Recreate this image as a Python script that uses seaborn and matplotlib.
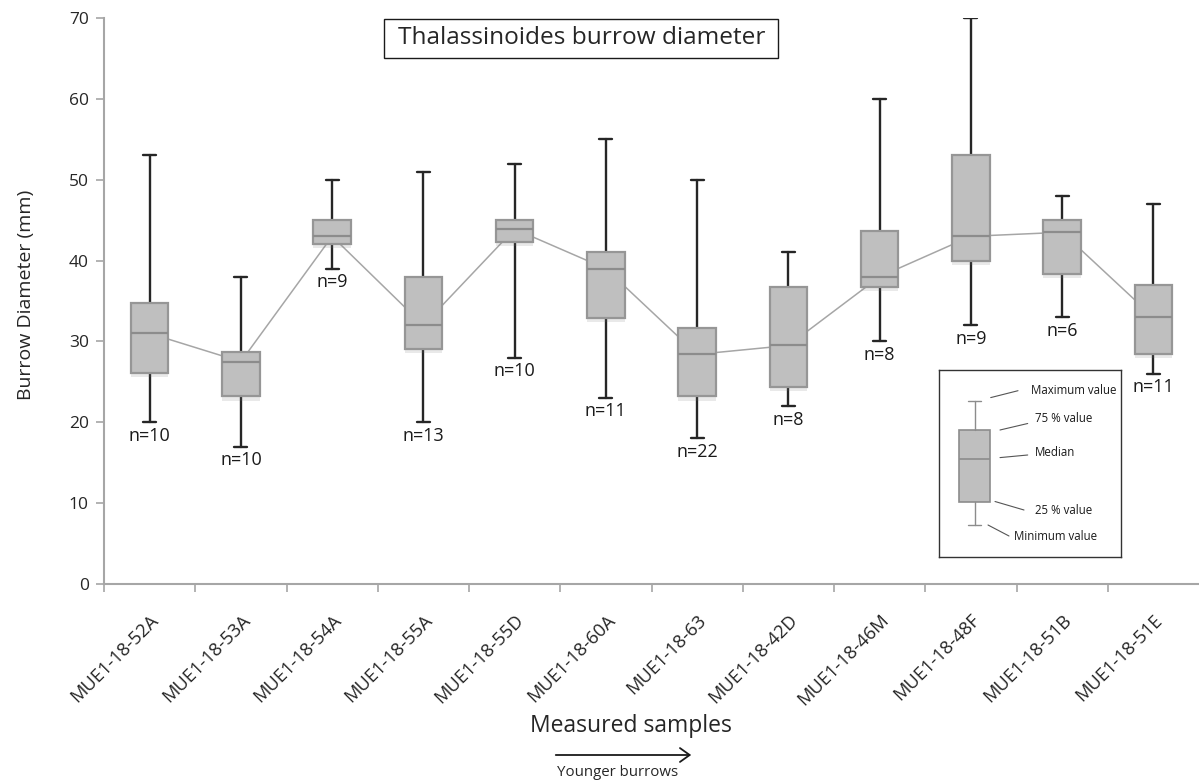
import numpy as np
import pandas as pd
import matplotlib
matplotlib.use("Agg")
import matplotlib.pyplot as plt
import matplotlib.patheffects as pe
from matplotlib.patches import Rectangle, FancyArrowPatch
from matplotlib.transforms import ScaledTranslation
import seaborn as sns

# Samples in stratigraphic order (older -> younger)
samples = ["MUE1-18-52A", "MUE1-18-53A", "MUE1-18-54A", "MUE1-18-55A",
           "MUE1-18-55D", "MUE1-18-60A", "MUE1-18-63", "MUE1-18-42D",
           "MUE1-18-46M", "MUE1-18-48F", "MUE1-18-51B", "MUE1-18-51E"]

# Burrow diameter summary statistics (mm)
d_min = [20, 17, 39, 20, 28, 23, 18, 22, 30, 32, 33, 26]
d_q1 = [26.1, 23.2, 42.1, 29.1, 42.3, 32.9, 23.2, 24.4, 36.7, 40.0, 38.3, 28.5]
d_median = [31.0, 27.5, 43.0, 32.0, 43.9, 39.0, 28.4, 29.5, 38.0, 43.0, 43.5, 33.0]
d_q3 = [34.7, 28.7, 45.0, 38.0, 45.0, 41.0, 31.7, 36.7, 43.7, 53.0, 45.0, 37.0]
d_max = [53, 38, 50, 51, 52, 55, 50, 41, 60, 70, 48, 47]
n_burrows = [10, 10, 9, 13, 10, 11, 22, 8, 8, 9, 6, 11]

# Values used for the explanatory key box
key_stats = {"whislo": 32, "q1": 55.5, "med": 98, "q3": 127, "whishi": 156}
key_labels = ["Maximum value", "75 % value", "Median", "25 % value", "Minimum value"]

sns.set_theme(style="white")
plt.rcParams["font.family"] = ["Open Sans", "DejaVu Sans"]

W, H = 1199, 780
fig = plt.figure(figsize=(W / 100, H / 100), dpi=100)
ax = fig.add_axes([104 / W, 1 - 584 / H, (W - 104) / W, (584 - 18) / H])

df = pd.DataFrame({"sample": samples, "pos": np.arange(len(samples)),
                   "lo": d_min, "q1": d_q1, "med": d_median,
                   "q3": d_q3, "hi": d_max, "n": n_burrows})

# Line joining the medians, drawn beneath the boxes
sns.lineplot(data=df, x="pos", y="med", ax=ax, color="#a6a6a6",
             linewidth=1.1, zorder=1, legend=False)

stats = [{"whislo": r.lo, "q1": r.q1, "med": r.med, "q3": r.q3,
          "whishi": r.hi, "fliers": [], "label": r.sample}
         for r in df.itertuples()]

shadow = [pe.SimplePatchShadow(offset=(0, -3), alpha=0.16, shadow_rgbFace="#777777"),
          pe.Normal()]
bp = ax.bxp(stats, positions=df["pos"], widths=0.41, patch_artist=True,
            showfliers=False, manage_ticks=False,
            boxprops=dict(facecolor="#bfbfbf", edgecolor="#969696", linewidth=1.6),
            medianprops=dict(color="#8c8c8c", linewidth=1.6),
            whiskerprops=dict(color="#262626", linewidth=1.7),
            capprops=dict(color="#262626", linewidth=1.7),
            capwidths=0.14)
for box in bp["boxes"]:
    box.set_zorder(3)
    box.set_path_effects(shadow)
for m in bp["medians"]:
    m.set_zorder(4)
for w in bp["whiskers"] + bp["caps"]:
    w.set_zorder(2)

# Sample size below each lower whisker
for r in df.itertuples():
    ax.text(r.pos, r.lo - 0.55, f"n={r.n}", ha="center", va="top",
            fontsize=13, color="#1a1a1a")

ax.set_xlim(-0.5, len(samples) - 0.5)
ax.set_ylim(0, 70)
ax.set_yticks(np.arange(0, 71, 10))
ax.set_xticks(np.arange(-0.5, len(samples) - 0.5, 1))
ax.set_xticklabels([])
ax.set_xticks(np.arange(len(samples)), minor=True)
ax.set_xticklabels(samples, minor=True, rotation=45, ha="right", va="top",
                   rotation_mode="anchor", fontsize=13.2)
shift = ScaledTranslation(2 / 100, 0, fig.dpi_scale_trans)
for lbl in ax.get_xticklabels(minor=True):
    lbl.set_transform(lbl.get_transform() + shift)
ax.tick_params(axis="x", which="major", direction="out", length=6,
               width=1.2, color="#a6a6a6", bottom=True)
ax.tick_params(axis="x", which="minor", length=0, pad=19.5, bottom=True)
ax.tick_params(axis="y", direction="out", length=6, width=1.2,
               color="#a6a6a6", labelsize=12.5, pad=5, left=True)
for s in ["top", "right"]:
    ax.spines[s].set_visible(False)
for s in ["left", "bottom"]:
    ax.spines[s].set_color("#a6a6a6")
    ax.spines[s].set_linewidth(1.5)
ax.set_xlabel("")
ax.set_ylabel("")

fig.text(26 / W, 1 - 295 / H, "Burrow Diameter (mm)", rotation=90,
         ha="center", va="center", fontsize=14)
fig.text(631 / W, 1 - 726 / H, "Measured samples", ha="center",
         va="center", fontsize=16.5)
fig.text(618 / W, 1 - 772 / H, "Younger burrows", ha="center",
         va="center", fontsize=10.8)
fig.add_artist(FancyArrowPatch(
    (553 / W, 1 - 755 / H), (694 / W, 1 - 755 / H),
    transform=fig.transFigure, arrowstyle="->,head_length=7,head_width=5",
    color="#1a1a1a", linewidth=1.3, mutation_scale=1))

# Title in a framed box
fig.add_artist(Rectangle((384 / W, 1 - 58 / H), (778 - 384) / W, (58 - 19) / H,
                         transform=fig.transFigure, facecolor="white",
                         edgecolor="#1a1a1a", linewidth=1.0))
fig.text(582 / W, 1 - 38 / H, "Thalassinoides burrow diameter",
         ha="center", va="center", fontsize=17.6)

# Key explaining the box elements
kx0, ky0, kx1, ky1 = 939, 370, 1121, 557
kax = fig.add_axes([kx0 / W, 1 - ky1 / H, (kx1 - kx0) / W, (ky1 - ky0) / H])
kax.set_xlim(0, kx1 - kx0)
kax.set_ylim(0, ky1 - ky0)
kax.set_xticks([])
kax.set_yticks([])
for s in kax.spines.values():
    s.set_visible(True)
    s.set_color("#333333")
    s.set_linewidth(1.0)
kax.bxp([dict(key_stats, fliers=[])], positions=[35.7], widths=31,
        patch_artist=True, showfliers=False, manage_ticks=False,
        boxprops=dict(facecolor="#bfbfbf", edgecolor="#8c8c8c", linewidth=1.2),
        medianprops=dict(color="#8c8c8c", linewidth=1.2),
        whiskerprops=dict(color="#8c8c8c", linewidth=1.0),
        capprops=dict(color="#8c8c8c", linewidth=1.0), capwidths=13)
pointer_lines = [((51.7, 159.4), (79, 166.3)), ((61, 127), (88.7, 133.5)),
                 ((61, 99.4), (88.7, 102)), ((56, 55.5), (85, 47)),
                 ((49, 32), (70, 21))]
label_pos = [(91.7, 167), (96, 138), (96, 104.4), (96, 47), (75, 21)]
for (p0, p1), (tx, ty), lab in zip(pointer_lines, label_pos, key_labels):
    kax.plot([p0[0], p1[0]], [p0[1], p1[1]], color="#555555", linewidth=0.8)
    kax.text(tx, ty, lab, ha="left", va="center", fontsize=8.3, color="#1a1a1a")

fig.savefig("out.png", dpi=100)
